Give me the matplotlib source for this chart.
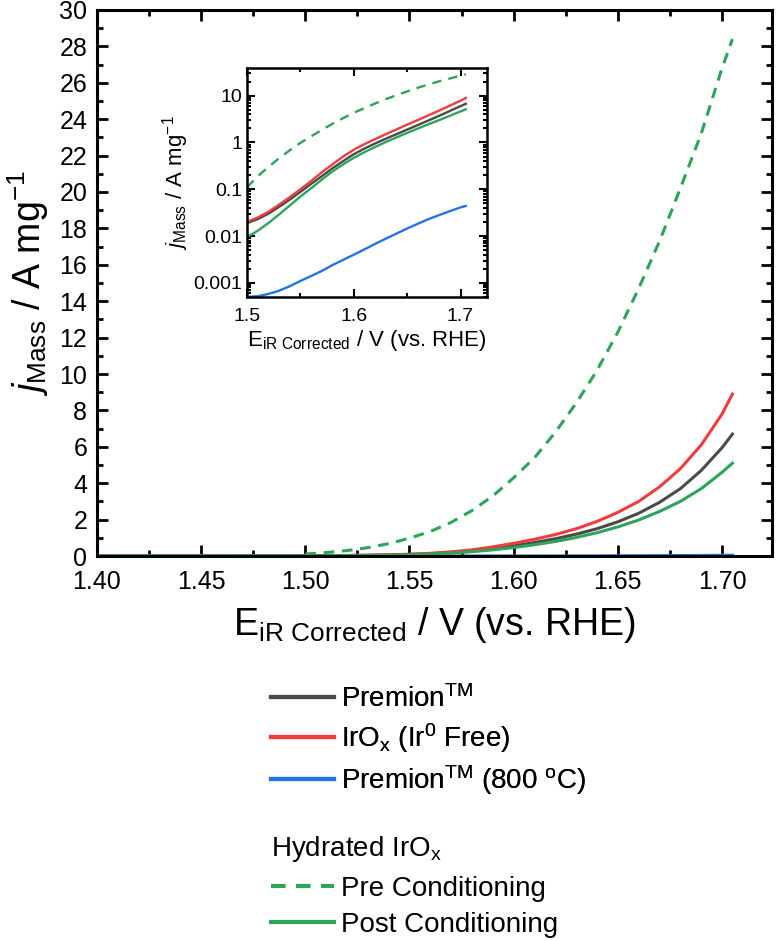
import numpy as np
import matplotlib
matplotlib.use('Agg')
import matplotlib.pyplot as plt
from matplotlib.ticker import MultipleLocator, LogLocator, FuncFormatter, NullFormatter

plt.rcParams['font.family'] = ['Liberation Sans', 'DejaVu Sans']
plt.rcParams['mathtext.fontset'] = 'custom'
plt.rcParams['mathtext.rm'] = 'Liberation Sans'
plt.rcParams['mathtext.it'] = 'Liberation Sans:italic'

# potential (V vs RHE)
potential = [1.40, 1.45, 1.50, 1.51, 1.52, 1.53, 1.54, 1.55, 1.56, 1.57, 1.58, 1.59, 1.60,
             1.61, 1.62, 1.63, 1.64, 1.65, 1.66, 1.67, 1.68, 1.69, 1.70, 1.705]

# mass activity (A/mg)
premion = [0.0001, 0.003, 0.019, 0.023, 0.030, 0.042, 0.060, 0.088, 0.13, 0.19, 0.28, 0.40, 0.56,
           0.74, 0.95, 1.20, 1.50, 1.88, 2.35, 2.95, 3.70, 4.70, 5.95, 6.70]
irox_free = [0.0001, 0.003, 0.020, 0.025, 0.033, 0.047, 0.068, 0.10, 0.15, 0.23, 0.34, 0.50, 0.70,
             0.92, 1.18, 1.50, 1.90, 2.40, 3.00, 3.80, 4.80, 6.10, 7.80, 8.90]
premion_800 = [0.00005, 0.0002, 0.00050, 0.00052, 0.00058, 0.00068, 0.00085, 0.0011, 0.0014, 0.0018,
               0.0024, 0.0031, 0.0040, 0.0052, 0.0068, 0.0088, 0.0113, 0.0145, 0.0183, 0.023, 0.028,
               0.034, 0.041, 0.044]
post_cond = [0.0001, 0.002, 0.0095, 0.013, 0.019, 0.029, 0.045, 0.070, 0.105, 0.16, 0.24, 0.34, 0.47,
             0.62, 0.80, 1.02, 1.28, 1.60, 1.98, 2.45, 3.00, 3.70, 4.60, 5.10]

potential_pre = [1.50, 1.51, 1.52, 1.53, 1.54, 1.55, 1.56, 1.57, 1.58, 1.59, 1.60, 1.61, 1.62,
                 1.63, 1.64, 1.65, 1.66, 1.67, 1.68, 1.69, 1.70, 1.705]
pre_cond = [0.11, 0.19, 0.30, 0.46, 0.68, 0.98, 1.35, 1.85, 2.5, 3.3, 4.3, 5.4, 6.8,
            8.4, 10.2, 12.3, 14.7, 17.3, 20.2, 23.2, 26.8, 28.4]

c_black = '#4a4a4a'
c_red = '#f03c3c'
c_blue = '#2274e0'
c_green = '#2ea35a'

fig = plt.figure(figsize=(7.77, 9.41), dpi=100)
ax = fig.add_axes([0.1248, 0.4091, 0.8688, 0.5803])

lw = 2.2
l1, = ax.plot(potential, premion, color=c_black, lw=lw, label='Premion$^{\\rm TM}$')
l2, = ax.plot(potential, irox_free, color=c_red, lw=lw, label='IrO$_{\\rm x}$ (Ir$^{0}$ Free)')
l3, = ax.plot(potential, premion_800, color=c_blue, lw=lw, label='Premion$^{\\rm TM}$ (800 $^{\\rm o}$C)')
l5, = ax.plot(potential, post_cond, color=c_green, lw=lw, label='Post Conditioning')
l4, = ax.plot(potential_pre, pre_cond, color=c_green, lw=lw, ls=(0, (3.5, 2.5)), label='Pre Conditioning')

ax.set_xlim(1.40, 1.724)
ax.set_ylim(0, 30)
ax.xaxis.set_major_locator(MultipleLocator(0.05))
ax.xaxis.set_minor_locator(MultipleLocator(0.025))
ax.yaxis.set_major_locator(MultipleLocator(2))
ax.yaxis.set_minor_locator(MultipleLocator(1))
ax.xaxis.set_major_formatter(FuncFormatter(lambda v, p: f'{v:.2f}'))
ax.tick_params(which='both', direction='in', top=True, right=True, width=2, labelsize=18)
ax.tick_params(which='major', length=8)
ax.tick_params(which='minor', length=4)
ax.tick_params(axis='x', pad=10)
ax.tick_params(axis='y', pad=7)
for s in ax.spines.values():
    s.set_linewidth(2.2)
ax.set_xlabel('E$_{\\rm iR\\ Corrected}$ / V (vs. RHE)', fontsize=27, labelpad=8)
ax.set_ylabel('$j_{\\rm Mass}$ / A mg$^{-1}$', fontsize=27, labelpad=6)

# inset, log scale
ins = fig.add_axes([0.318, 0.6844, 0.309, 0.2434])
ilw = 1.7
ins.plot(potential, premion, color=c_black, lw=ilw)
ins.plot(potential, irox_free, color=c_red, lw=ilw)
ins.plot(potential, premion_800, color=c_blue, lw=ilw)
ins.plot(potential, post_cond, color=c_green, lw=ilw)
ins.plot(potential_pre, pre_cond, color=c_green, lw=ilw, ls=(0, (4, 3)))
ins.set_yscale('log')
ins.set_xlim(1.5, 1.725)
ins.set_ylim(0.0005, 39)
ins.xaxis.set_major_locator(MultipleLocator(0.1))
ins.xaxis.set_minor_locator(MultipleLocator(0.05))
ins.xaxis.set_major_formatter(FuncFormatter(lambda v, p: f'{v:.1f}'))
ins.yaxis.set_major_locator(LogLocator(base=10, numticks=10))
ins.yaxis.set_minor_locator(LogLocator(base=10, subs=np.arange(2, 10), numticks=10))
ins.yaxis.set_major_formatter(FuncFormatter(lambda v, p: f'{v:g}'))
ins.yaxis.set_minor_formatter(NullFormatter())
ins.tick_params(which='both', direction='in', top=True, right=True, width=1.5, labelsize=14)
ins.tick_params(which='major', length=6)
ins.tick_params(which='minor', length=3)
ins.tick_params(axis='x', pad=8)
for s in ins.spines.values():
    s.set_linewidth(1.8)
ins.set_xlabel('E$_{\\rm iR\\ Corrected}$ / V (vs. RHE)', fontsize=16, labelpad=2)
ins.set_ylabel('$j_{\\rm Mass}$ / A mg$^{-1}$', fontsize=16, labelpad=2)

# legends below the axes
leg1 = fig.legend(handles=[l1, l2, l3], loc='upper left', bbox_to_anchor=(0.335, 0.284),
                  frameon=False, fontsize=20, handlelength=2.25, handletextpad=0.27,
                  labelspacing=0.3, borderaxespad=0)
for h in leg1.get_lines():
    h.set_linewidth(3)
leg2 = fig.legend(handles=[l4, l5], loc='upper left', bbox_to_anchor=(0.335, 0.126),
                  frameon=False, fontsize=20, handlelength=2.25, handletextpad=0.27,
                  labelspacing=0.35, borderaxespad=0, title='Hydrated IrO$_{\\rm x}$',
                  title_fontsize=20, alignment='left')
leg2._legend_box.sep = 9
for h in leg2.get_lines():
    h.set_linewidth(3)
fig.add_artist(leg1)

fig.savefig('out.png', dpi=100)
